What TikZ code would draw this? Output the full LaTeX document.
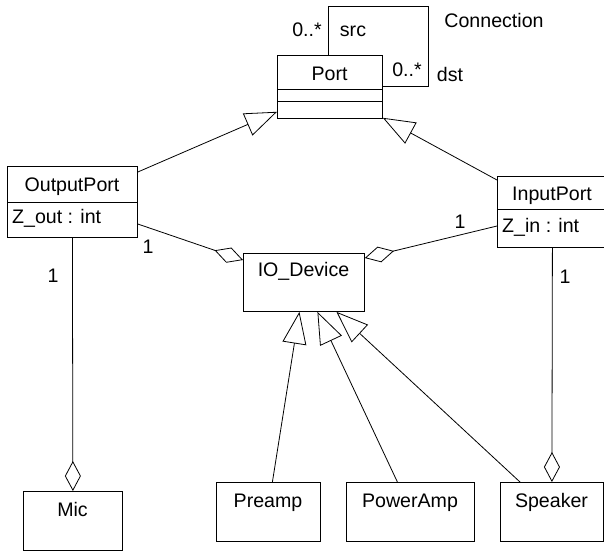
\documentclass[tikz,border=0pt]{standalone}
\usepackage{fontspec}
\setmainfont{Liberation Sans}
\usetikzlibrary{arrows.meta}

\begin{document}
\begin{tikzpicture}[x=1pt,y=-1pt,
  box/.style={draw, line width=0.8pt, rectangle, anchor=north west, inner sep=0pt},
  txt/.style={inner sep=0pt, anchor=base, font=\fontsize{19.6}{23}\selectfont},
  ltxt/.style={txt, anchor=base west},
  link/.style={line width=0.8pt},
  isa/.style={link, -{Triangle[open, length=32pt, width=24pt]}},
  agg/.style={link, -{Diamond[open, length=30pt, width=16pt]}},
]
\clip (0,0) rectangle (604,550);
\path[fill=white] (0,0) rectangle (604,550);

% classes
\node[box, minimum width=105pt, minimum height=63pt] (port) at (277,55) {};
\draw[link] ([yshift=-34pt]port.north west) -- ([yshift=-34pt]port.north east);
\draw[link] ([yshift=-46pt]port.north west) -- ([yshift=-46pt]port.north east);
\node[txt] (tport) at (329.5,80) {Port};

\node[box, minimum width=130pt, minimum height=71pt] (op) at (7,166) {};
\draw[link] ([yshift=-36pt]op.north west) -- ([yshift=-36pt]op.north east);
\node[txt] (top) at (72,191) {OutputPort};
\node[ltxt] (zout) at (12,223) {Z\_out : int};

\node[box, minimum width=110pt, minimum height=71pt] (ip) at (497,176) {};
\draw[link] ([yshift=-33pt]ip.north west) -- ([yshift=-33pt]ip.north east);
\node[txt] (tip) at (552,200.5) {InputPort};
\node[ltxt] (zin) at (502,232.5) {Z\_in : int};

\node[box, minimum width=121pt, minimum height=58pt] (io) at (243,253) {};
\node[txt] (tio) at (303.5,276.5) {IO\_Device};

\node[box, minimum width=99pt, minimum height=59pt] (mic) at (23,491) {};
\node[txt] (tmic) at (72.5,516) {Mic};

\node[box, minimum width=104pt, minimum height=59pt] (pre) at (216,482) {};
\node[txt] (tpre) at (268,507) {Preamp};

\node[box, minimum width=128pt, minimum height=59pt] (pa) at (346,482) {};
\node[txt] (tpa) at (410,507) {PowerAmp};

\node[box, minimum width=103pt, minimum height=59pt] (spk) at (500,482) {};
\node[txt] (tspk) at (551.5,507) {Speaker};

% self association of Port
\coordinate (loopcorner) at (428,6);
\draw[link] ([xshift=51pt]port.north west) |- (loopcorner) |- ([yshift=-31pt]port.north east);
\node[txt] (srcmult) at (307,36.5) {0..*};
\node[txt] (srcrole) at (353,36.5) {src};
\node[txt] (assoc) at (494,27) {Connection};
\node[txt] (dstmult) at (407,76.5) {0..*};
\node[txt] (dstrole) at (450,81) {dst};

% generalizations
\draw[isa] ([yshift=-6pt]op.north east) -- ([yshift=7pt]port.south west);
\draw[isa] ([yshift=-4pt]ip.north west) -- ([yshift=1pt]port.south east);
\draw[isa] ([xshift=4pt]pre.north) -- ([xshift=-4.5pt]io.south);
\draw[isa] ([xshift=-13pt]pa.north) -- ([xshift=13.5pt]io.south);
\draw[isa] ([xshift=20pt]spk.north west) -- ([xshift=32.5pt]io.south);

% aggregations
\draw[agg] ([yshift=-58pt]op.north east) -- ([yshift=-7pt]io.north west);
\draw[agg] ([yshift=-50pt]ip.north west) -- ([yshift=-5pt]io.north east);
\draw[agg] (op.south) -- (mic.north);
\draw[agg] (ip.south) -- (spk.north);

% multiplicities
\node[txt] (m1) at (148,253) {1};
\node[txt] (m2) at (53,282.5) {1};
\node[txt] (m3) at (460,228) {1};
\node[txt] (m4) at (565,283) {1};
\end{tikzpicture}
\end{document}
